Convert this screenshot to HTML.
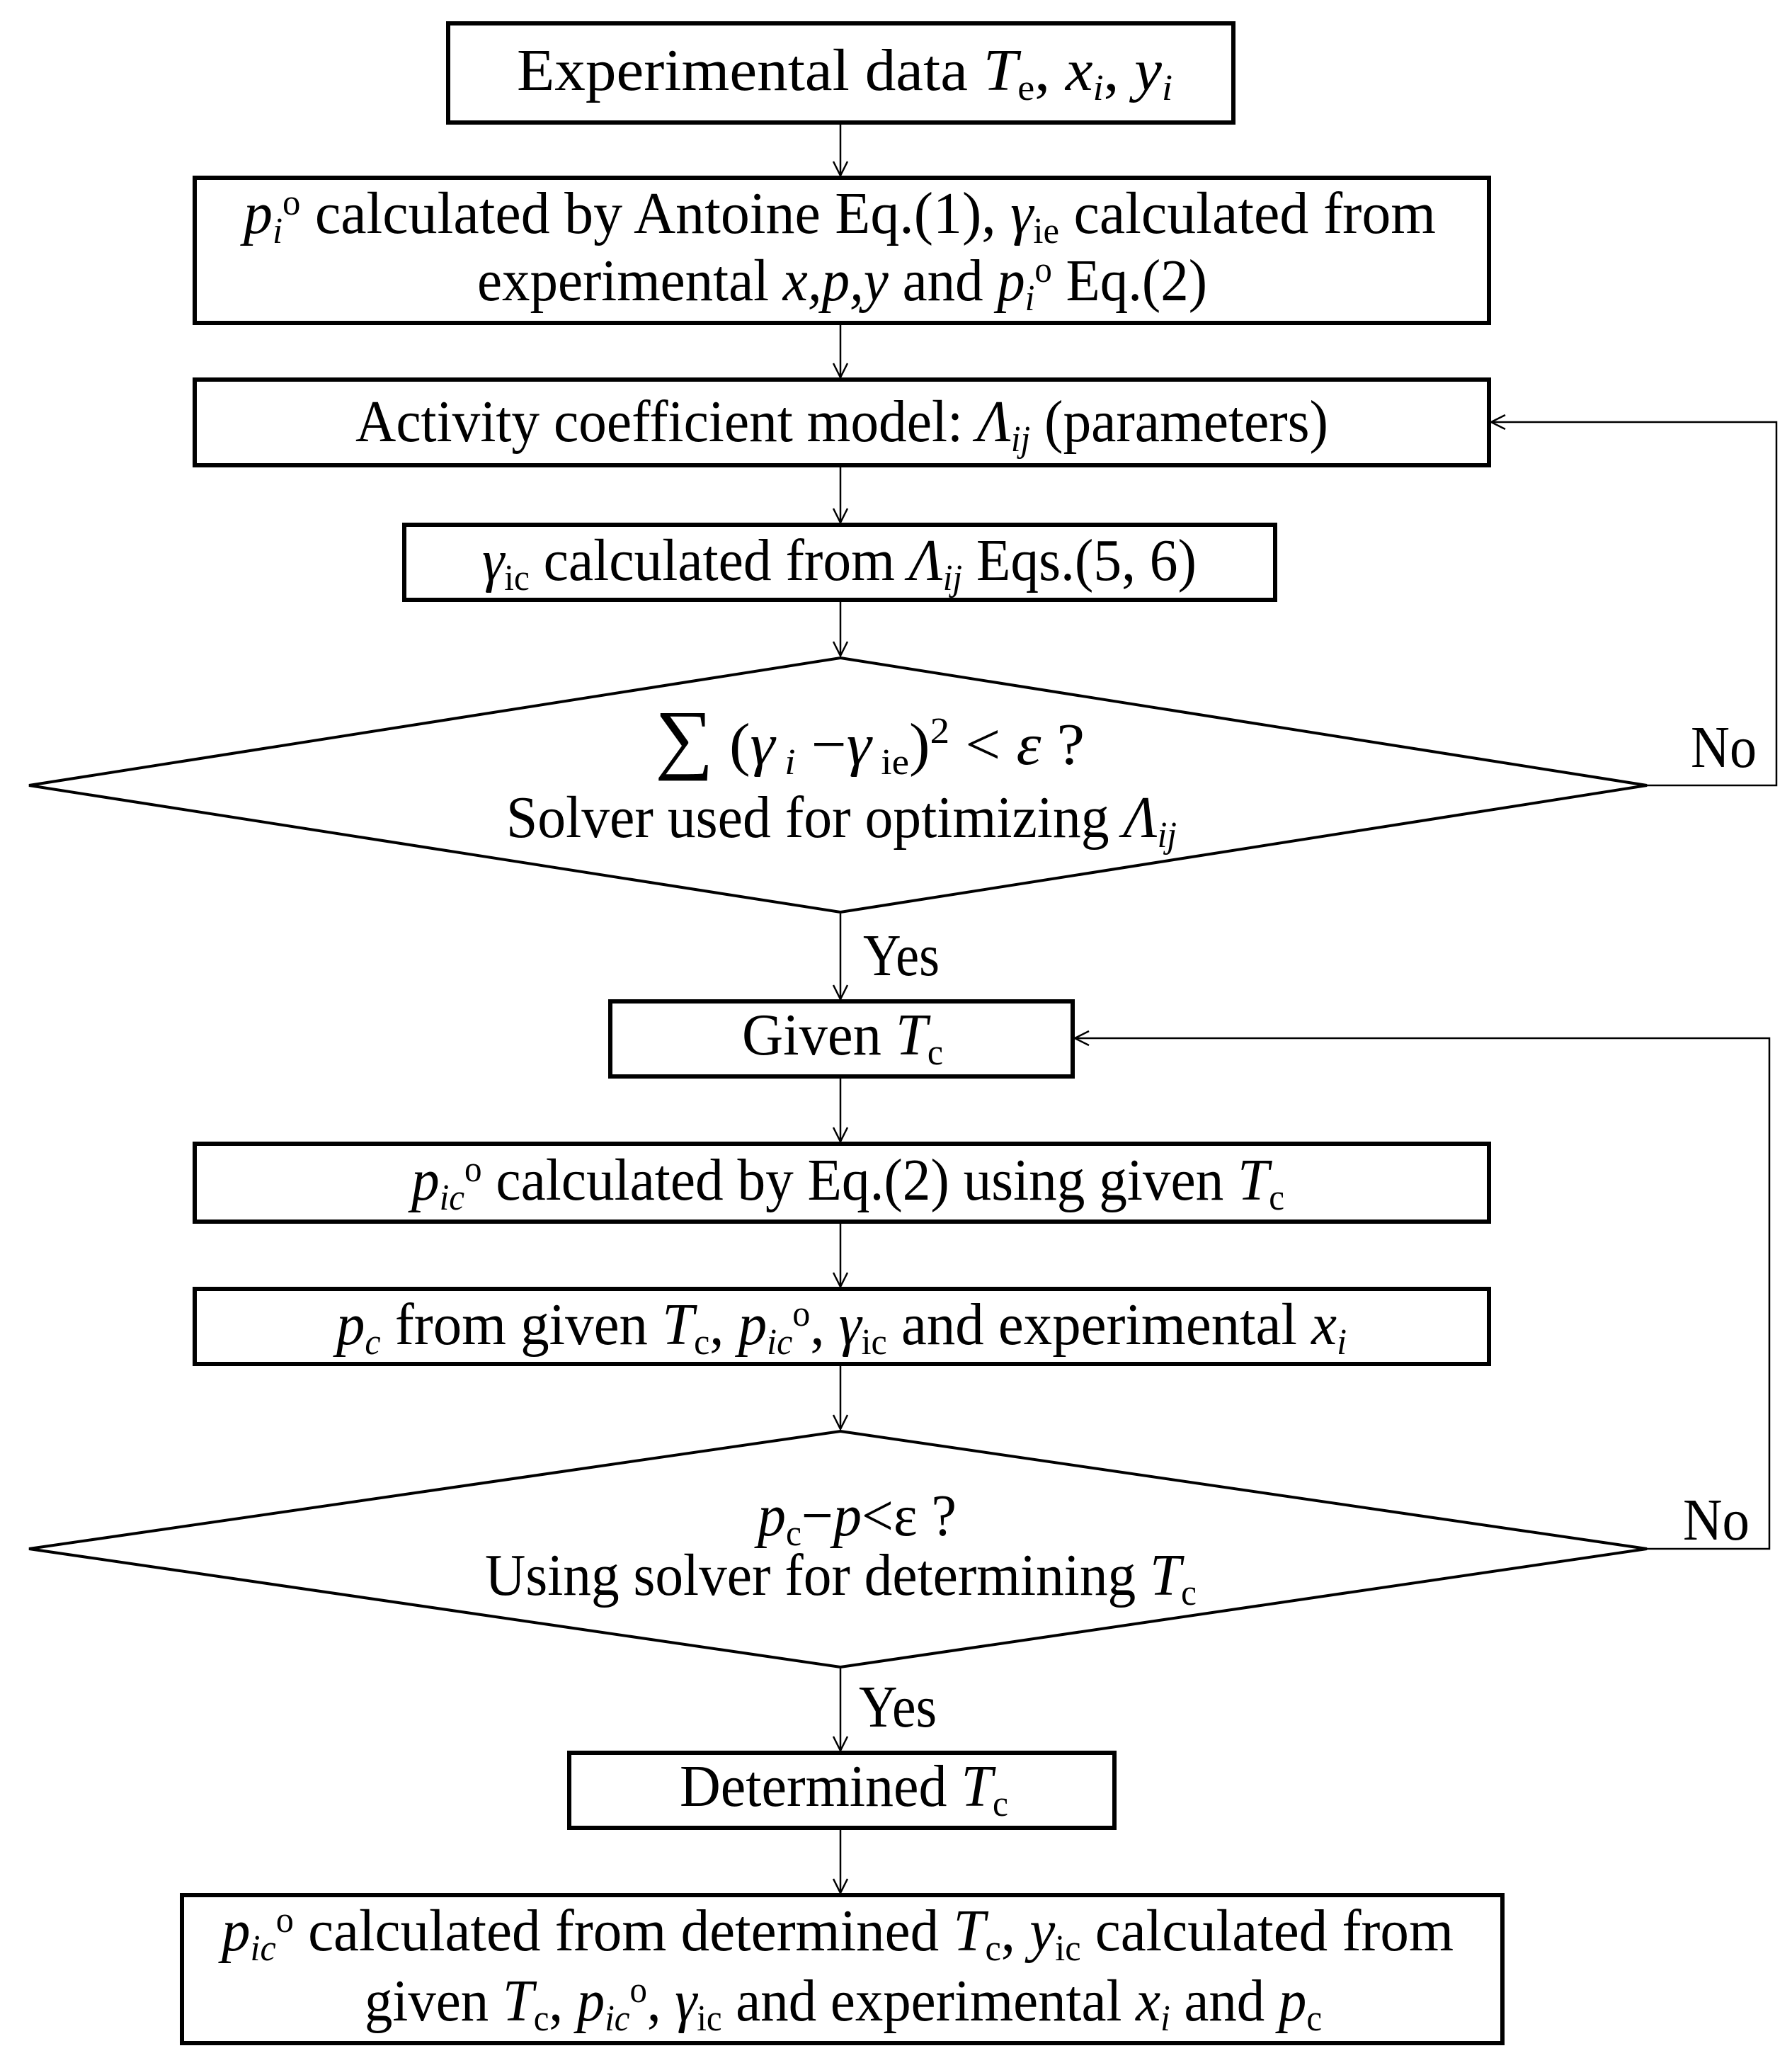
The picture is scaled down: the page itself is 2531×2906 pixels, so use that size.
<!DOCTYPE html>
<html><head><meta charset="utf-8"><style>
html,body{margin:0;padding:0;background:#fff;}
svg{display:block;}
text{font-family:"Liberation Serif",serif;font-size:84px;fill:#000;}
.i{font-style:italic;}
.s{font-size:52px;}
</style></head><body>
<svg width="2531" height="2906" viewBox="0 0 2531 2906" xmlns="http://www.w3.org/2000/svg">
<defs>
<marker id="a" markerWidth="30" markerHeight="30" refX="22" refY="12" orient="auto" markerUnits="userSpaceOnUse">
<path d="M2,2 L22,12 L2,22" fill="none" stroke="#000" stroke-width="2.5"/>
</marker>
</defs>
<g fill="none" stroke="#000" stroke-width="6">
<rect x="633" y="33" width="1109" height="140"/>
<rect x="275" y="251" width="1828" height="205"/>
<rect x="275" y="536" width="1828" height="121"/>
<rect x="571" y="741" width="1230" height="106"/>
<polygon points="1187,929 2326,1109 1187,1288 41,1109" stroke-width="4"/>
<rect x="862" y="1414" width="653" height="106"/>
<rect x="275" y="1615" width="1828" height="110"/>
<rect x="275" y="1820" width="1828" height="106"/>
<polygon points="1187,2021 2326,2187 1187,2354 41,2187" stroke-width="4"/>
<rect x="804" y="2475" width="770" height="106"/>
<rect x="257" y="2676" width="1865" height="209"/>
</g>
<g fill="none" stroke="#000" stroke-width="2.5" marker-end="url(#a)">
<line x1="1187" y1="176" x2="1187" y2="248"/>
<line x1="1187" y1="459" x2="1187" y2="533"/>
<line x1="1187" y1="660" x2="1187" y2="738"/>
<line x1="1187" y1="850" x2="1187" y2="926"/>
<line x1="1187" y1="1290" x2="1187" y2="1411"/>
<line x1="1187" y1="1523" x2="1187" y2="1612"/>
<line x1="1187" y1="1728" x2="1187" y2="1817"/>
<line x1="1187" y1="1929" x2="1187" y2="2018"/>
<line x1="1187" y1="2356" x2="1187" y2="2472"/>
<line x1="1187" y1="2584" x2="1187" y2="2673"/>
<polyline points="2326,1109 2509,1109 2509,596 2106,596"/>
<polyline points="2326,2187 2499,2187 2499,1466 1518,1466"/>
</g>
<text x="730" y="127" textLength="926" lengthAdjust="spacingAndGlyphs">Experimental data <tspan class="i">T</tspan><tspan class="s" dy="14">e</tspan><tspan dy="-14">,  </tspan><tspan class="i">x</tspan><tspan class="s i" dy="14">i</tspan><tspan dy="-14">,  </tspan><tspan class="i">y</tspan><tspan class="s i" dy="14">i</tspan></text>
<text x="344" y="329" textLength="1684" lengthAdjust="spacingAndGlyphs"><tspan class="i">p</tspan><tspan class="s i" dy="14">i</tspan><tspan class="s" dy="-40">o</tspan><tspan dy="26"> calculated by Antoine Eq.(1),  </tspan><tspan class="i">γ</tspan><tspan class="s" dy="14">ie</tspan><tspan dy="-14">  calculated from</tspan></text>
<text x="674" y="424" textLength="1031" lengthAdjust="spacingAndGlyphs">experimental <tspan class="i">x,p,y</tspan> and <tspan class="i">p</tspan><tspan class="s i" dy="14">i</tspan><tspan class="s" dy="-40">o</tspan><tspan dy="26"> Eq.(2)</tspan></text>
<text x="502" y="623" textLength="1374" lengthAdjust="spacingAndGlyphs">Activity coefficient model: <tspan class="i">Λ</tspan><tspan class="s i" dy="14">ij</tspan><tspan dy="-14"> (parameters)</tspan></text>
<text x="681" y="819" textLength="1009" lengthAdjust="spacingAndGlyphs"><tspan class="i">γ</tspan><tspan class="s" dy="14">ic</tspan><tspan dy="-14"> calculated from </tspan><tspan class="i">Λ</tspan><tspan class="s i" dy="14">ij</tspan><tspan dy="-14"> Eqs.(5, 6)</tspan></text>
<text x="925" y="1079" textLength="607" lengthAdjust="spacingAndGlyphs"><tspan font-size="110">∑</tspan> (<tspan class="i">γ</tspan><tspan class="s i" dy="14"> i</tspan><tspan dy="-14"> −</tspan><tspan class="i">γ</tspan><tspan class="s" dy="14"> ie</tspan><tspan dy="-14">)</tspan><tspan class="s" dy="-30">2</tspan><tspan dy="30"> &lt; </tspan><tspan class="i">ε</tspan>  ?</text>
<text x="715" y="1182" textLength="947" lengthAdjust="spacingAndGlyphs">Solver used for optimizing <tspan class="i">Λ</tspan><tspan class="s i" dy="14">ij</tspan></text>
<text x="2388" y="1083" textLength="93" lengthAdjust="spacingAndGlyphs">No</text>
<text x="1219" y="1377" textLength="108" lengthAdjust="spacingAndGlyphs">Yes</text>
<text x="1048" y="1489" textLength="284" lengthAdjust="spacingAndGlyphs">Given <tspan class="i">T</tspan><tspan class="s" dy="14">c</tspan></text>
<text x="581" y="1694" textLength="1233" lengthAdjust="spacingAndGlyphs"><tspan class="i">p</tspan><tspan class="s i" dy="14">ic</tspan><tspan class="s" dy="-40">o</tspan><tspan dy="26"> calculated by Eq.(2) using given </tspan><tspan class="i">T</tspan><tspan class="s" dy="14">c</tspan></text>
<text x="475" y="1898" textLength="1427" lengthAdjust="spacingAndGlyphs"><tspan class="i">p</tspan><tspan class="s i" dy="14">c</tspan><tspan dy="-14"> from given </tspan><tspan class="i">T</tspan><tspan class="s" dy="14">c</tspan><tspan dy="-14">, </tspan><tspan class="i">p</tspan><tspan class="s i" dy="14">ic</tspan><tspan class="s" dy="-40">o</tspan><tspan dy="26">,  </tspan><tspan class="i">γ</tspan><tspan class="s" dy="14">ic</tspan><tspan dy="-14"> and experimental </tspan><tspan class="i">x</tspan><tspan class="s i" dy="14">i</tspan></text>
<text x="1070" y="2168" textLength="281" lengthAdjust="spacingAndGlyphs"><tspan class="i">p</tspan><tspan class="s" dy="14">c</tspan><tspan dy="-14">−</tspan><tspan class="i">p</tspan>&lt;ε ?</text>
<text x="685" y="2252" textLength="1005" lengthAdjust="spacingAndGlyphs">Using solver for determining <tspan class="i">T</tspan><tspan class="s" dy="14">c</tspan></text>
<text x="2377" y="2174" textLength="94" lengthAdjust="spacingAndGlyphs">No</text>
<text x="1213" y="2438" textLength="110" lengthAdjust="spacingAndGlyphs">Yes</text>
<text x="960" y="2550" textLength="464" lengthAdjust="spacingAndGlyphs">Determined <tspan class="i">T</tspan><tspan class="s" dy="14">c</tspan></text>
<text x="313" y="2754" textLength="1740" lengthAdjust="spacingAndGlyphs"><tspan class="i">p</tspan><tspan class="s i" dy="14">ic</tspan><tspan class="s" dy="-40">o</tspan><tspan dy="26"> calculated from determined </tspan><tspan class="i">T</tspan><tspan class="s" dy="14">c</tspan><tspan dy="-14">, </tspan><tspan class="i">y</tspan><tspan class="s" dy="14">ic</tspan><tspan dy="-14">  calculated from</tspan></text>
<text x="515" y="2853" textLength="1352" lengthAdjust="spacingAndGlyphs">given <tspan class="i">T</tspan><tspan class="s" dy="14">c</tspan><tspan dy="-14">, </tspan><tspan class="i">p</tspan><tspan class="s i" dy="14">ic</tspan><tspan class="s" dy="-40">o</tspan><tspan dy="26">, </tspan><tspan class="i">γ</tspan><tspan class="s" dy="14">ic</tspan><tspan dy="-14"> and experimental </tspan><tspan class="i">x</tspan><tspan class="s i" dy="14">i</tspan><tspan dy="-14"> and </tspan><tspan class="i">p</tspan><tspan class="s" dy="14">c</tspan></text>
</svg>
</body></html>
